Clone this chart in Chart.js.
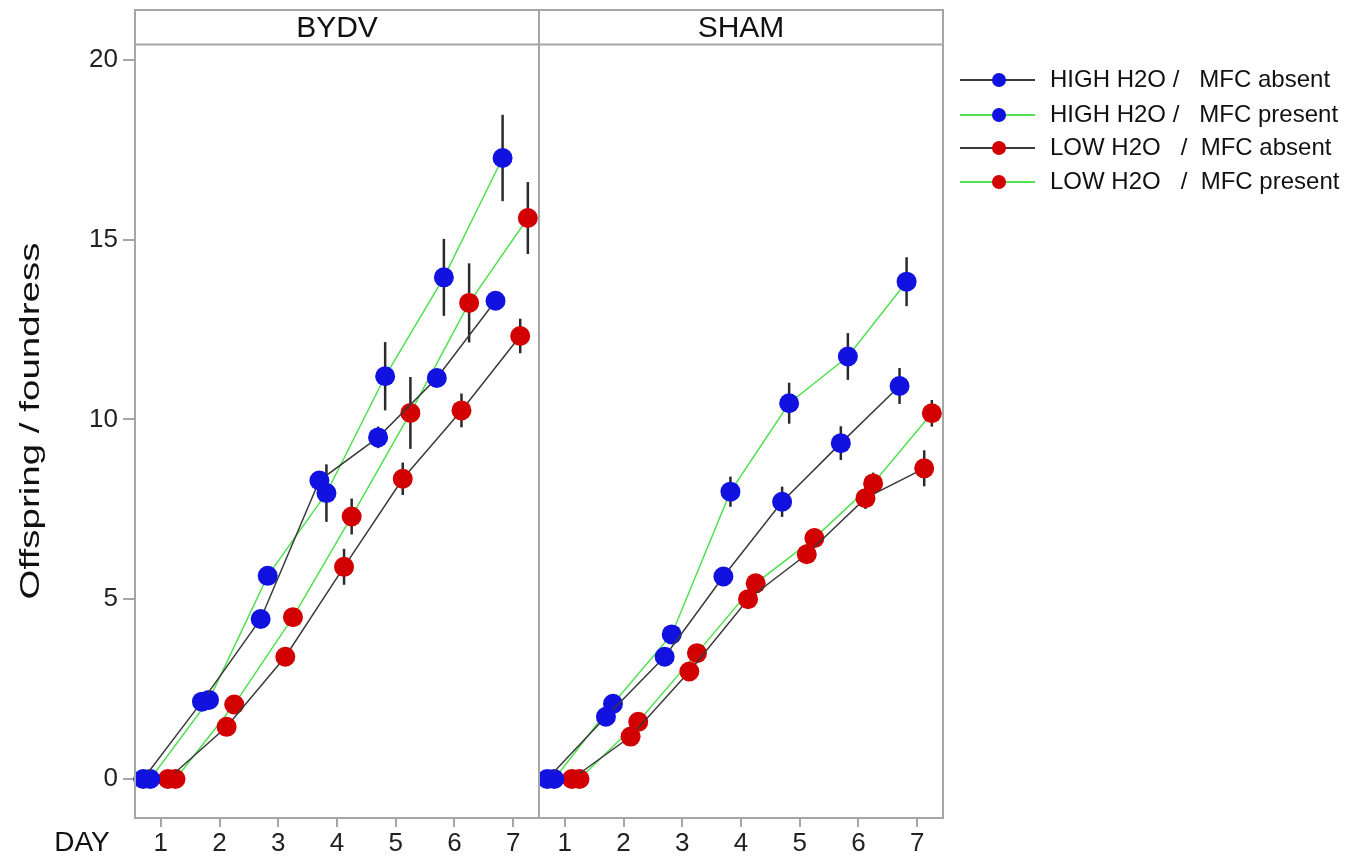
<!DOCTYPE html>
<html>
<head>
<meta charset="utf-8">
<script src="https://cdn.jsdelivr.net/npm/chart.js@4.4.0/dist/chart.umd.min.js"></script>
<style>
  body { margin: 0; background: #fff; width: 1356px; height: 860px; overflow: hidden; position: relative; }
  canvas { position: absolute; top: 0; }
  #bydv { left: 0; }
  #sham { left: 539px; }
</style>
</head>
<body>
<canvas id="bydv" width="541" height="860"></canvas>
<canvas id="sham" width="817" height="860"></canvas>
<script>
// data
const days = [1, 2, 3, 4, 5, 6, 7];
const yTicks = [0, 5, 10, 15, 20];
const seriesLabels = ['HIGH H2O /   MFC absent', 'HIGH H2O /   MFC present', 'LOW H2O   /  MFC absent', 'LOW H2O   /  MFC present'];

// BYDV panel
const bydvHighAbsent  = [0, 2.15, 4.45, 8.3, 9.5, 11.15, 13.3];
const bydvHighPresent = [0, 2.2, 5.65, 7.95, 11.2, 13.95, 17.27];
const bydvLowAbsent   = [0, 1.45, 3.4, 5.9, 8.35, 10.25, 12.32];
const bydvLowPresent  = [0, 2.07, 4.5, 7.3, 10.18, 13.24, 15.6];
const bydvHighAbsentErr  = [0, 0.1, 0.2, 0.25, 0.3, 0.25, 0.2];
const bydvHighPresentErr = [0, 0.1, 0.2, 0.8, 0.95, 1.07, 1.2];
const bydvLowAbsentErr   = [0, 0.1, 0.2, 0.5, 0.45, 0.47, 0.48];
const bydvLowPresentErr  = [0, 0.1, 0.2, 0.5, 1.0, 1.1, 1.0];

// SHAM panel
const shamHighAbsent  = [0, 1.73, 3.4, 5.63, 7.71, 9.34, 10.93];
const shamHighPresent = [0, 2.09, 4.02, 7.99, 10.45, 11.75, 13.83];
const shamLowAbsent   = [0, 1.18, 2.99, 5.0, 6.25, 7.81, 8.64];
const shamLowPresent  = [0, 1.59, 3.5, 5.44, 6.7, 8.22, 10.17];
const shamHighAbsentErr  = [0, 0.1, 0.15, 0.25, 0.42, 0.47, 0.5];
const shamHighPresentErr = [0, 0.1, 0.2, 0.42, 0.57, 0.65, 0.68];
const shamLowAbsentErr   = [0, 0.1, 0.15, 0.2, 0.25, 0.3, 0.5];
const shamLowPresentErr  = [0, 0.1, 0.15, 0.2, 0.25, 0.3, 0.37];

// look
const BLUE = '#1212e0', RED = '#d20000', BLACK = '#3a3a3a', GREEN = '#50e050';
const FRAME = '#a6a6a6';
const FONT = '"Liberation Sans", Arial, sans-serif';
const markerColors = [BLUE, BLUE, RED, RED];
const lineColors = [BLACK, GREEN, BLACK, GREEN];
const dodge = [-0.3, -0.18, 0.12, 0.25];
const Y_MIN = -1.085, Y_MAX = 20.44;
const X_MIN = 0.56, X_MAX = 7.44;

function makeSets(means, errs) {
  return means.map((vals, s) => ({
    label: seriesLabels[s],
    data: vals.map((v, i) => ({ x: days[i] + dodge[s], y: v })),
    errors: errs[s],
    borderColor: lineColors[s],
    borderWidth: 1.5,
    pointBackgroundColor: markerColors[s],
    pointBorderColor: markerColors[s],
    pointRadius: 10,
    pointBorderWidth: 0,
    tension: 0,
    clip: false
  }));
}

// vertical error bars under the markers
const errorBars = {
  id: 'errorBars',
  beforeDatasetsDraw(chart) {
    const { ctx, scales: { x, y } } = chart;
    ctx.save();
    ctx.strokeStyle = '#2a2a2a';
    ctx.lineWidth = 2.5;
    chart.data.datasets.forEach(ds => {
      ds.data.forEach((p, i) => {
        const e = ds.errors[i];
        if (!e) return;
        const px = x.getPixelForValue(p.x);
        ctx.beginPath();
        ctx.moveTo(px, y.getPixelForValue(p.y - e));
        ctx.lineTo(px, y.getPixelForValue(p.y + e));
        ctx.stroke();
      });
    });
    ctx.restore();
  }
};

// panel frame with the strip title on top
function panelFrame(title) {
  return {
    id: 'panelFrame',
    afterDraw(chart) {
      const { ctx, chartArea: a } = chart;
      ctx.save();
      ctx.strokeStyle = FRAME;
      ctx.lineWidth = 2;
      ctx.strokeRect(a.left, 10, a.right - a.left, a.bottom - 10);
      ctx.beginPath();
      ctx.moveTo(a.left, 44.5);
      ctx.lineTo(a.right, 44.5);
      ctx.stroke();
      ctx.fillStyle = '#111';
      ctx.font = '30px ' + FONT;
      ctx.textAlign = 'center';
      ctx.textBaseline = 'middle';
      ctx.fillText(title, (a.left + a.right) / 2, 29);
      ctx.restore();
    }
  };
}

const axisTitles = {
  id: 'axisTitles',
  afterDraw(chart) {
    const { ctx } = chart;
    ctx.save();
    ctx.fillStyle = '#111';
    ctx.font = '28px ' + FONT;
    ctx.textAlign = 'center';
    ctx.textBaseline = 'middle';
    ctx.fillText('DAY', 82, 843);
    ctx.translate(31, 421);
    ctx.rotate(-Math.PI / 2);
    const w = ctx.measureText('Offspring / foundress').width;
    ctx.scale(357 / w, 1);
    ctx.fillText('Offspring / foundress', 0, 0);
    ctx.restore();
  }
};

const sideLegend = {
  id: 'sideLegend',
  afterDraw(chart) {
    const { ctx } = chart;
    const rows = [80, 115, 148, 182];
    const x0 = 421, x1 = 496, xm = 460, xt = 511;
    ctx.save();
    ctx.font = '24px ' + FONT;
    ctx.textBaseline = 'middle';
    chart.data.datasets.forEach((ds, s) => {
      const yy = rows[s];
      ctx.strokeStyle = lineColors[s];
      ctx.lineWidth = 2;
      ctx.beginPath();
      ctx.moveTo(x0, yy);
      ctx.lineTo(x1, yy);
      ctx.stroke();
      ctx.fillStyle = markerColors[s];
      ctx.beginPath();
      ctx.arc(xm, yy, 7, 0, Math.PI * 2);
      ctx.fill();
      ctx.fillStyle = '#111';
      ctx.fillText(ds.label, xt, yy);
    });
    ctx.restore();
  }
};

function makeOptions(showY, padding) {
  return {
    responsive: false,
    animation: false,
    layout: { padding, autoPadding: false },
    plugins: { legend: { display: false }, tooltip: { enabled: false } },
    scales: {
      x: {
        type: 'linear',
        min: X_MIN,
        max: X_MAX,
        afterBuildTicks: sc => { sc.ticks = days.map(v => ({ value: v })); },
        afterFit: sc => { sc.height = 42; },
        ticks: { color: '#222', font: { size: 26, family: FONT }, padding: 1, maxRotation: 0 },
        grid: { drawOnChartArea: false, drawTicks: true, tickLength: 9, color: FRAME, lineWidth: 2 },
        border: { display: true, color: FRAME, width: 2 }
      },
      y: {
        display: showY,
        min: Y_MIN,
        max: Y_MAX,
        afterBuildTicks: sc => { sc.ticks = yTicks.map(v => ({ value: v })); },
        afterFit: sc => { sc.width = showY ? 135 : 0; },
        ticks: { color: '#222', font: { size: 26, family: FONT }, padding: 5 },
        grid: { drawOnChartArea: false, drawTicks: true, tickLength: 12, color: FRAME, lineWidth: 2 },
        border: { display: true, color: FRAME, width: 2 }
      }
    }
  };
}

new Chart(document.getElementById('bydv').getContext('2d'), {
  type: 'line',
  data: {
    datasets: makeSets(
      [bydvHighAbsent, bydvHighPresent, bydvLowAbsent, bydvLowPresent],
      [bydvHighAbsentErr, bydvHighPresentErr, bydvLowAbsentErr, bydvLowPresentErr])
  },
  options: makeOptions(true, { top: 44, right: 2, bottom: 0, left: 0 }),
  plugins: [errorBars, panelFrame('BYDV'), axisTitles]
});

new Chart(document.getElementById('sham').getContext('2d'), {
  type: 'line',
  data: {
    datasets: makeSets(
      [shamHighAbsent, shamHighPresent, shamLowAbsent, shamLowPresent],
      [shamHighAbsentErr, shamHighPresentErr, shamLowAbsentErr, shamLowPresentErr])
  },
  options: makeOptions(false, { top: 44, right: 413, bottom: 0, left: 0 }),
  plugins: [errorBars, panelFrame('SHAM'), sideLegend]
});
</script>
</body>
</html>
